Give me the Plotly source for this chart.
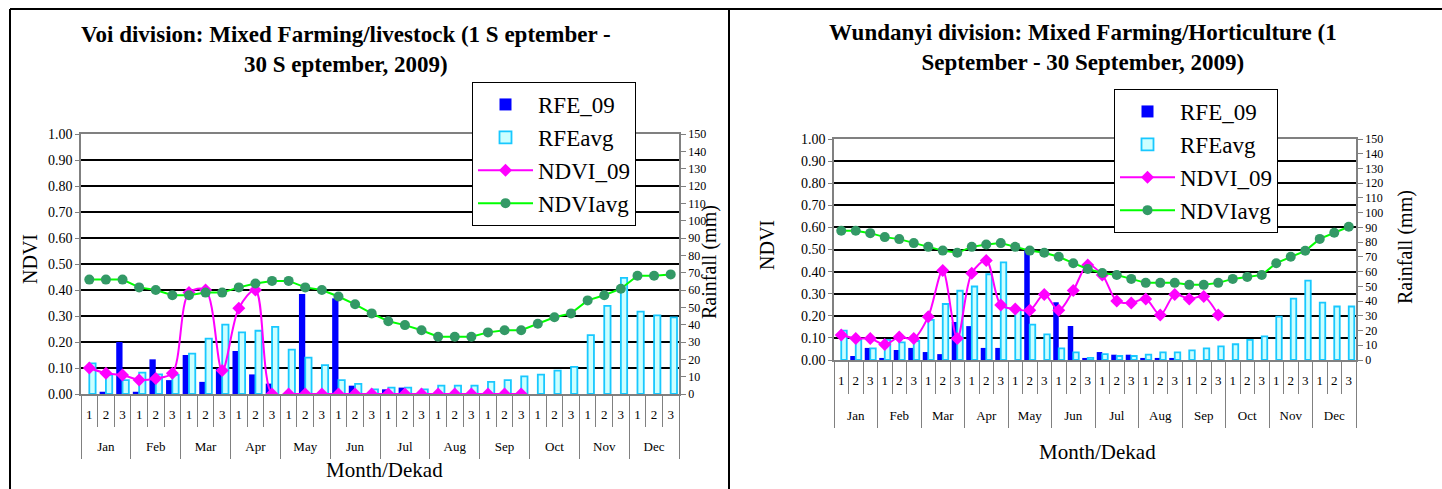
import plotly.graph_objects as go

W, H = 1442, 489

months = ["Jan", "Feb", "Mar", "Apr", "May", "Jun", "Jul", "Aug", "Sep", "Oct", "Nov", "Dec"]
dekads = ["1", "2", "3"]
x_month = [m for m in months for _ in dekads]
x_dekad = [d for _ in months for d in dekads]

# Voi division
voi_rfe09 = [0, 1.3, 30, 1.3, 20, 8, 22.5, 7, 14.8, 24.8, 11.3, 6, 0, 57.7, 0, 55.2, 4.8, 0,
             2.7, 3.7, 0, 0, 0, 0, 0, 0, 0, None, None, None, None, None, None, None, None, None]
voi_rfeavg = [17.7, 11, 8, 12.3, 11.3, 11, 23.3, 32, 40, 35.6, 36.5, 38.7, 25.6, 21, 16.7, 8, 5.8, 2.7,
              3.7, 3.7, 2.7, 4.8, 4.8, 4.8, 7, 8, 10.2, 11.2, 13.5, 15.6, 34, 50.8, 67, 47.5, 45.4, 44.2]
voi_ndvi09 = [0.10, 0.08, 0.073, 0.054, 0.06, 0.08, 0.39, 0.40, 0.09, 0.33, 0.40, 0.0, 0.0, 0.0, 0.0, 0.0, 0.0, 0.0,
              0.0, 0.0, 0.0, 0.0, 0.0, 0.0, 0.0, 0.0, 0.0, None, None, None, None, None, None, None, None, None]
voi_ndviavg = [0.44, 0.44, 0.44, 0.41, 0.40, 0.38, 0.38, 0.39, 0.39, 0.41, 0.425, 0.435, 0.435, 0.41, 0.40, 0.375, 0.345, 0.31,
               0.28, 0.265, 0.245, 0.22, 0.22, 0.22, 0.237, 0.245, 0.245, 0.27, 0.295, 0.31, 0.36, 0.38, 0.405, 0.455, 0.455, 0.46]

# Wundanyi division
wun_rfe09 = [0, 2.7, 8.2, 1.4, 6.8, 8.2, 5.4, 4, 25.8, 23, 8.2, 8.2, 0, 74.8, 0, 39.2, 23.1, 1.4,
             5.4, 3.6, 3.6, 1.4, 1.4, 1.4, 0, 0, 0, None, None, None, None, None, None, None, None, None]
wun_rfeavg = [20, 13.6, 7.9, 13.6, 12, 12.9, 27.2, 38, 47, 49.9, 58.2, 66.2, 34, 24, 17.4, 7.9, 5.2, 1.4,
              4, 2.7, 2.7, 3.6, 5.2, 5.2, 6.6, 7.9, 9.3, 10.7, 13.6, 16.1, 29.5, 41.7, 53.9, 39, 36.3, 36.3]
wun_ndvi09 = [0.113, 0.097, 0.097, 0.07, 0.104, 0.097, 0.196, 0.405, 0.097, 0.393, 0.45, 0.249, 0.231, 0.225, 0.296, 0.225, 0.314, 0.43,
              0.385, 0.267, 0.258, 0.276, 0.204, 0.296, 0.276, 0.287, 0.204, None, None, None, None, None, None, None, None, None]
wun_ndviavg = [0.585, 0.585, 0.574, 0.556, 0.547, 0.529, 0.512, 0.495, 0.485, 0.512, 0.523, 0.529, 0.512, 0.495, 0.485, 0.467, 0.438, 0.412,
               0.394, 0.385, 0.367, 0.349, 0.349, 0.349, 0.34, 0.34, 0.349, 0.367, 0.376, 0.385, 0.438, 0.467, 0.494, 0.548, 0.576, 0.603]

FONT = "Liberation Serif"
BLUE = "#0000FF"
CYAN_LINE = "#18C8FF"
CYAN_FILL = "#CCFFFF"
PINK = "#FF00FF"
GREEN = "#00FF00"
DKGREEN = "#339966"
GRAY = "#808080"


def px_x(v):
    return v / W


def px_y(v):
    return (H - v) / H


x_cat = [x_month, x_dekad]
n_cat = len(x_dekad)
x_idx = list(range(n_cat))          # category index of each dekad (same scale as the category axis)
cat_range = [-0.5, n_cat - 0.5]
dekad_bounds = [i - 0.5 for i in range(n_cat + 1)]
month_pos = [3 * i + 1 for i in range(len(months))]
month_bounds = [3 * i - 0.5 for i in range(len(months) + 1)]

fig = go.Figure()


def add_chart(xa, xa_dek, xa_mon, ya_rain, ya_ndvi, leg, rfe09, rfeavg, ndvi09, ndviavg, grp):
    fig.add_trace(go.Bar(x=x_cat, y=rfe09, name="RFE_09", xaxis=xa, yaxis=ya_rain, legend=leg,
                         legendgroup=grp + "a", marker=dict(color=BLUE, line=dict(width=0))))
    fig.add_trace(go.Bar(x=x_cat, y=rfeavg, name="RFEavg", xaxis=xa, yaxis=ya_rain, legend=leg,
                         legendgroup=grp + "b",
                         marker=dict(color=CYAN_FILL, line=dict(color=CYAN_LINE, width=1.8))))
    fig.add_trace(go.Scatter(x=x_idx, y=ndvi09, name="NDVI_09", xaxis=xa_dek, yaxis=ya_ndvi, legend=leg,
                             legendgroup=grp + "c", mode="lines+markers",
                             line=dict(color=PINK, width=2, shape="spline", smoothing=0.9),
                             marker=dict(symbol="diamond", size=10, color=PINK)))
    fig.add_trace(go.Scatter(x=x_idx, y=ndviavg, name="NDVIavg", xaxis=xa_mon, yaxis=ya_ndvi, legend=leg,
                             legendgroup=grp + "d", mode="lines+markers",
                             line=dict(color=GREEN, width=2),
                             marker=dict(symbol="circle", size=10, color=DKGREEN)))


add_chart("x", "x3", "x4", "y", "y2", "legend", voi_rfe09, voi_rfeavg, voi_ndvi09, voi_ndviavg, "v")
add_chart("x2", "x5", "x6", "y3", "y4", "legend2", wun_rfe09, wun_rfeavg, wun_ndvi09, wun_ndviavg, "w")

xaxis_main = dict(type="multicategory", range=cat_range, showline=True, linecolor=GRAY, linewidth=1.5,
                  mirror=True, showgrid=False, ticks="", showticklabels=False, showdividers=False,
                  automargin=False)


def label_axis(over, anchor, vals, text, bounds, seplen, standoff):
    return dict(overlaying=over, anchor=anchor, type="linear", range=cat_range, showline=False,
                showgrid=False, zeroline=False, tickmode="array", tickvals=vals, ticktext=text,
                ticks="", ticklabelstandoff=standoff, tickangle=0,
                tickfont=dict(family=FONT, size=13, color="black"),
                minor=dict(tickmode="array", tickvals=bounds, ticks="outside", ticklen=seplen,
                           tickcolor=GRAY, tickwidth=1, showgrid=False),
                automargin=False)


rain_common = dict(side="right", range=[0, 150], dtick=10, tick0=0, ticks="outside", ticklen=5,
                   tickcolor=GRAY, showline=True, linecolor=GRAY, linewidth=1.5, showgrid=False,
                   zeroline=False, tickfont=dict(family=FONT, size=12, color="black"), automargin=False)
ndvi_common = dict(side="left", range=[0, 1], dtick=0.1, tick0=0, tickformat=".2f", ticks="outside",
                   ticklen=4, tickcolor=GRAY, showline=True, linecolor=GRAY, linewidth=1.5,
                   showgrid=True, gridcolor="black", gridwidth=2, zeroline=False,
                   tickfont=dict(family=FONT, size=14, color="black"), automargin=False)

legend_common = dict(font=dict(family=FONT, size=23, color="black"), bgcolor="white",
                     bordercolor="black", borderwidth=1, xanchor="left", yanchor="top",
                     itemwidth=55, traceorder="normal")

fig.update_layout(
    width=W, height=H,
    margin=dict(l=0, r=0, t=0, b=0),
    paper_bgcolor="white", plot_bgcolor="white",
    barmode="group", bargap=0.24, bargroupgap=0.0,
    xaxis=dict(domain=[px_x(81), px_x(679)], anchor="y", **xaxis_main),
    yaxis=dict(domain=[px_y(394), px_y(134)], anchor="x", **rain_common),
    yaxis2=dict(overlaying="y", anchor="x", **ndvi_common),
    xaxis3=label_axis("x", "y", x_idx, x_dekad, dekad_bounds, 32, 11),
    xaxis4=label_axis("x", "y", month_pos, months, month_bounds, 64, 43),
    xaxis2=dict(domain=[px_x(834), px_x(1356)], anchor="y3", **xaxis_main),
    yaxis3=dict(domain=[px_y(360), px_y(139)], anchor="x2", **rain_common),
    yaxis4=dict(overlaying="y3", anchor="x2", **ndvi_common),
    xaxis5=label_axis("x2", "y3", x_idx, x_dekad, dekad_bounds, 33, 11),
    xaxis6=label_axis("x2", "y3", month_pos, months, month_bounds, 67, 46),
    legend=dict(x=px_x(472), y=px_y(82), tracegroupgap=6, **legend_common),
    legend2=dict(x=px_x(1114), y=px_y(89), tracegroupgap=10, **legend_common),
    showlegend=True,
)

annotations = [
    dict(text="<b>Voi division: Mixed Farming/livestock (1 S eptember -<br>30 S eptember, 2009)</b>",
         x=px_x(346), y=px_y(49), font=dict(family=FONT, size=23, color="black")),
    dict(text="<b>Wundanyi division: Mixed Farming/Horticulture (1<br>September - 30 September, 2009)</b>",
         x=px_x(1083), y=px_y(48), font=dict(family=FONT, size=23, color="black")),
    dict(text="NDVI", x=px_x(30), y=px_y(259), textangle=-90, font=dict(family=FONT, size=20, color="black")),
    dict(text="NDVI", x=px_x(767), y=px_y(245), textangle=-90, font=dict(family=FONT, size=20, color="black")),
    dict(text="Rainfall (mm)", x=px_x(709), y=px_y(262), textangle=-90, font=dict(family=FONT, size=20, color="black")),
    dict(text="Rainfall (mm)", x=px_x(1405), y=px_y(247), textangle=-90, font=dict(family=FONT, size=20, color="black")),
    dict(text="Month/Dekad", x=px_x(384), y=px_y(470), font=dict(family=FONT, size=21, color="black")),
    dict(text="Month/Dekad", x=px_x(1097), y=px_y(452), font=dict(family=FONT, size=21, color="black")),
]
for a in annotations:
    a.update(xref="paper", yref="paper", showarrow=False, xanchor="center", yanchor="middle")
fig.update_layout(annotations=annotations)

shapes = [
    dict(type="line", x0=px_x(10), x1=1, y0=px_y(9), y1=px_y(9)),
    dict(type="line", x0=px_x(10), x1=px_x(10), y0=px_y(9), y1=0),
    dict(type="line", x0=px_x(729), x1=px_x(729), y0=px_y(9), y1=0),
]
for s in shapes:
    s.update(xref="paper", yref="paper", line=dict(color="black", width=2))
fig.update_layout(shapes=shapes)

fig.write_html("out.html", config={"displayModeBar": False},
               post_script="document.body.style.margin='0px';")
